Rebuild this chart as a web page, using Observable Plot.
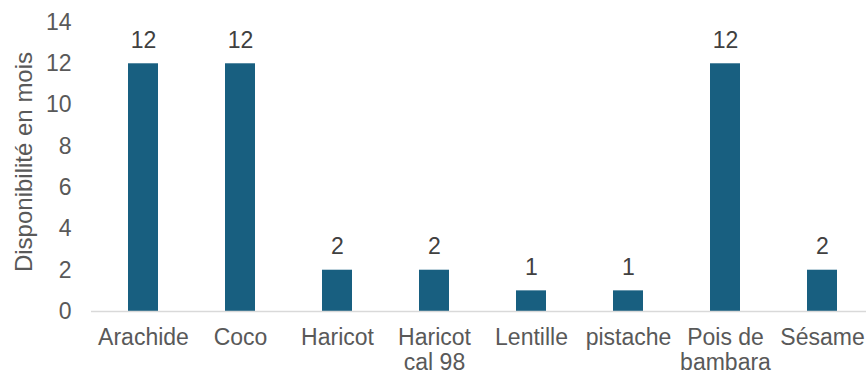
<!DOCTYPE html>
<html>
<head>
<meta charset="utf-8">
<script src="https://cdn.jsdelivr.net/npm/d3@7"></script>
<script src="https://cdn.jsdelivr.net/npm/@observablehq/plot@0.6"></script>
<style>
  html, body { margin: 0; padding: 0; background: #fff; }
  #chart svg { display: block; }
</style>
</head>
<body>
<div id="chart"></div>
<script>
const categories = ["Arachide", "Coco", "Haricot", "Haricot cal 98", "Lentille", "pistache", "Pois de bambara", "Sésame"];
const tickLabels = ["Arachide", "Coco", "Haricot", "Haricot\ncal 98", "Lentille", "pistache", "Pois de\nbambara", "Sésame"];
const values = [12, 12, 2, 2, 1, 1, 12, 2];
const yTicks = [0, 2, 4, 6, 8, 10, 12, 14];
const yTitle = "Disponibilité en mois";

const data = categories.map((c, i) => ({category: c, value: values[i]}));
const labelOf = new Map(categories.map((c, i) => [c, tickLabels[i]]));

const chart = Plot.plot({
  width: 866,
  height: 376,
  marginLeft: 91,
  marginRight: 0,
  marginTop: 22,
  marginBottom: 65,
  style: {fontFamily: "'Liberation Sans', Arial, sans-serif", fontSize: "23px", color: "#595959", background: "#fff"},
  x: {domain: categories, range: [91, 874], paddingInner: 0.686, paddingOuter: 0.343},
  y: {domain: [0, 14]},
  marks: [
    Plot.barY(data, {x: "category", y: "value", fill: "#185f80"}),
    Plot.ruleY([0], {stroke: "#d9d9d9", strokeWidth: 1.5}),
    Plot.text(data, {x: "category", y: "value", text: d => String(d.value), dy: -16, lineAnchor: "bottom", fill: "#404040", fontSize: 23}),
    Plot.axisY({ticks: yTicks, tickSize: 0, tickPadding: 20, label: null, fontSize: 23}),
    Plot.axisX({tickSize: 0, tickPadding: 16, label: null, fontSize: 23, lineHeight: 1.08, tickFormat: d => labelOf.get(d)}),
    Plot.text([yTitle], {frameAnchor: "left", rotate: -90, dx: -67, dy: -5, text: d => d, textAnchor: "middle", lineAnchor: "middle", fontSize: 24, fill: "#595959"})
  ]
});
document.getElementById("chart").append(chart);
</script>
</body>
</html>
